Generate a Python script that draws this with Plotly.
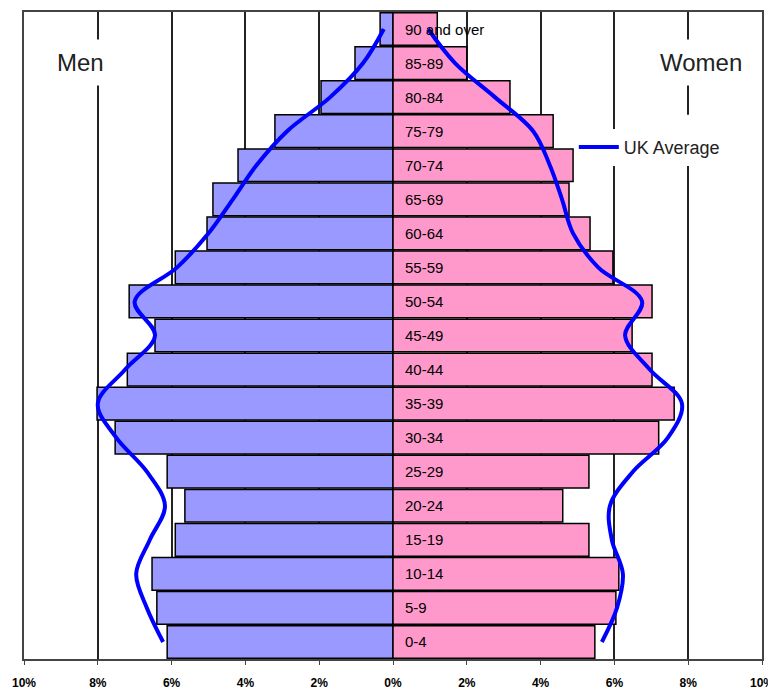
import plotly.graph_objects as go

# age bands, youngest first (bottom of the pyramid)
age_groups = ["0-4", "5-9", "10-14", "15-19", "20-24", "25-29", "30-34", "35-39",
              "40-44", "45-49", "50-54", "55-59", "60-64", "65-69", "70-74",
              "75-79", "80-84", "85-89", "90 and over"]

# % of population (local area)
men = [6.12, 6.4, 6.53, 5.9, 5.64, 6.12, 7.53, 8.02, 7.2, 6.45, 7.15, 5.9,
       5.04, 4.88, 4.2, 3.2, 1.95, 1.03, 0.35]
women = [5.47, 6.04, 6.12, 5.31, 4.6, 5.31, 7.2, 7.62, 7.02, 6.48, 7.02, 5.96,
         5.34, 4.77, 4.88, 4.34, 3.17, 2.0, 1.2]

# UK average profile
uk_men = [6.23, 6.67, 6.96, 6.59, 6.18, 6.67, 7.5, 8.0, 7.26, 6.45, 7.0, 5.85,
          5.0, 4.34, 3.7, 2.87, 1.7, 0.81, 0.25]
uk_women = [5.66, 6.07, 6.23, 5.93, 5.88, 6.5, 7.45, 7.83, 6.96, 6.29, 6.75, 5.56,
            4.88, 4.58, 4.25, 3.8, 2.76, 1.68, 0.95]

tick_vals = [-10, -8, -6, -4, -2, 0, 2, 4, 6, 8, 10]
tick_text = ["10%", "8%", "6%", "4%", "2%", "0%", "2%", "4%", "6%", "8%", "10%"]

fig = go.Figure()

fig.add_trace(go.Bar(
    y=age_groups, x=[-v for v in men], orientation="h", name="Men",
    marker=dict(color="#9999FF", line=dict(color="black", width=1.5)),
    showlegend=False,
))
fig.add_trace(go.Bar(
    y=age_groups, x=women, orientation="h", name="Women",
    marker=dict(color="#FF99CC", line=dict(color="black", width=1.5)),
    showlegend=False,
))

fig.add_trace(go.Scatter(
    y=age_groups, x=[-v for v in uk_men], mode="lines", name="UK Average",
    line=dict(color="#0000FF", width=4, shape="spline"),
    showlegend=False,
))
fig.add_trace(go.Scatter(
    y=age_groups, x=uk_women, mode="lines", name="UK Average",
    line=dict(color="#0000FF", width=4, shape="spline"),
    showlegend=True,
))

# age labels inside the women's bars
for g in age_groups:
    fig.add_annotation(x=0, y=g, text=g, showarrow=False, xanchor="left",
                       xshift=10, font=dict(size=15, color="black"))

# side labels breaking the gridlines
fig.add_annotation(xref="paper", yref="paper", x=0.077, y=0.922, text="Men",
                   xanchor="center", yanchor="middle",
                   showarrow=False, bgcolor="white", borderpad=9,
                   font=dict(size=24, color="#222222"))
fig.add_annotation(xref="paper", yref="paper", x=0.918, y=0.922, text="Women",
                   xanchor="center", yanchor="middle",
                   showarrow=False, bgcolor="white", borderpad=9,
                   font=dict(size=24, color="#222222"))

# white gap in the 8% gridline behind the legend
fig.add_shape(type="rect", xref="x", yref="paper", x0=7.7, x1=8.3,
              y0=0.768, y1=0.841, fillcolor="white", line=dict(width=0),
              layer="above")

# page body adds an 8px margin, so the figure is sized to fit the window
fig.update_layout(
    width=768, height=684,
    margin=dict(l=16, r=14, t=4, b=33),
    barmode="overlay", bargap=0.04,
    plot_bgcolor="white", paper_bgcolor="white",
    font=dict(family="Liberation Sans, Arial, sans-serif", color="black"),
    legend=dict(x=0.745, y=0.791, xanchor="left", yanchor="middle",
                bgcolor="white", font=dict(size=18, color="#222222"),
                itemwidth=40),
    xaxis=dict(range=[-10, 10], tickvals=tick_vals, ticktext=tick_text,
               showgrid=True, gridcolor="#222222", gridwidth=1.5,
               zeroline=False, showline=True, linecolor="#444444",
               linewidth=1.5, mirror=True, ticks="outside", ticklen=4,
               tickcolor="#444444", ticklabelstandoff=8, automargin=False,
               tickfont=dict(size=12, color="black", weight="bold")),
    yaxis=dict(categoryorder="array", categoryarray=age_groups,
               range=[-0.5, 18.5], showticklabels=False, showgrid=False,
               zeroline=False, showline=True, linecolor="#444444",
               linewidth=1.5, mirror=True, automargin=False),
)

fig.write_html("out.html")
